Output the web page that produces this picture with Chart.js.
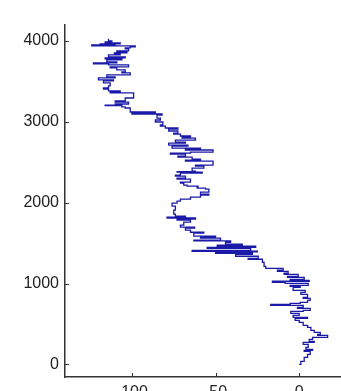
<!DOCTYPE html>
<html>
<head>
<meta charset="utf-8">
<script src="https://cdn.jsdelivr.net/npm/chart.js@4/dist/chart.umd.min.js"></script>
<style>
html,body{margin:0;padding:0;background:#fff;overflow:hidden;width:341px;height:391px;}
#wrap{width:341px;height:410px;}
</style>
</head>
<body>
<div id="wrap"><canvas id="c" width="341" height="410"></canvas></div>
<script>
// Profile values: horizontal value (x) along depth (y), bottom to top
const xValues = [0,1,3,5,6.6,3,8,4,5.4,2.4,9,6,8,17,11,12.6,9,7,5,2.4,0,-2.4,5,-3.6,0,-5,2.4,6.6,-1,2.4,
  -17,-5.4,0.6,5,6.6,2.4,5,1,3.6,-3.6,0.6,-5.4,5.4,-8.4,-16,6,-5.4,3,-7,-0.6,-9,-6.6,-13,-9.6,-20,-21,-22,
  -30.5,-24.5,-38,-28,-50,-25,-64,-29,-55,-26,-49,-34,-44,-41,-63,-47,-59,-50,-63,-57,-65,-68,-62.5,-71,
  -69,-65,-73,-62,-79,-68,-74,-75,-74,-76,-73,-71,-65,-59,-54,-59,-54,-56,-61,-60.5,-67,-69,-71,-65,-73,
  -68,-74,-71,-58,-73,-62,-64,-57,-62,-51.5,-68,-59,-64,-72.5,-68,-77,-65,-51.5,-68,-59,-76,-66.5,-78,-68,
  -74,-62,-70,-65,-71,-75,-72.5,-78,-72.5,-80,-83,-81.5,-86,-83,-85,-82,-100,-86,-101,-104,-106,-116,-110,
  -102,-110,-104,-99,-113,-107,-114,-117,-114,-113,-117,-111,-120,-110,-115,-101,-106,-104,-109,-113,-102,
  -114,-123,-109,-115,-106,-116,-104,-114,-107,-110.5,-103,-109,-102,-104,-101,-98,-124,-110,-119,-107,-116,-112,-114];
const depthValues = [0,37,87,124,161,173,186,210,248,272,285,310,334,359,371,396,421,458,483,520,545,569,582,607,631,656,669,693,706,730,
  743,755,768,792,817,829,866,891,916,953,966,978,1003,1015,1028,1040,1052,1077,1089,1114,1127,1150,1164,1188,1213,1263,1300,
  1312,1337,1362,1374,1392,1399,1411,1436,1448,1461,1473,1486,1510,1528,1535,1560,1572,1585,1622,1634,1659,1684,1696,1721,
  1758,1783,1795,1810,1820,1832,1857,1907,1956,1993,2018,2043,2067,2092,2105,2129,2166,2179,2191,2204,2216,2241,2253,2290,2303,
  2327,2340,2364,2377,2383,2389,2426,2451,2464,2513,2526,2538,2563,2575,2600,2612,2625,2650,2662,2674,2699,2711,2736,2748,
  2773,2798,2810,2823,2847,2860,2885,2909,2922,2946,2959,2996,3021,3045,3083,3095,3112,3120,3169,3182,3200,3206,3219,
  3243,3256,3293,3355,3367,3380,3404,3417,3442,3479,3504,3516,3541,3553,3578,3603,3615,3640,3665,3677,3702,
  3714,3727,3739,3764,3776,3789,3801,3826,3838,3850,3863,3875,3900,3912,3925,3937,3949,3955,3962,3974,3987,3999,4024];
const xTicks = [-100, -50, 0];
const yTicks = [0, 1000, 2000, 3000, 4000];

const points = xValues.map((v, i) => ({x: v, y: depthValues[i]}));

const inwardTicks = {
  id: 'inwardTicks',
  afterDraw(chart) {
    const ctx = chart.ctx, a = chart.chartArea;
    const xs = chart.scales.x, ys = chart.scales.y;
    ctx.save();
    ctx.strokeStyle = '#333';
    ctx.lineWidth = 1;
    ctx.beginPath();
    yTicks.forEach(t => {
      const p = Math.round(ys.getPixelForValue(t)) + 0.5;
      ctx.moveTo(a.left, p); ctx.lineTo(a.left + 4, p);
    });
    xTicks.forEach(t => {
      const p = Math.round(xs.getPixelForValue(t)) + 0.5;
      ctx.moveTo(p, a.bottom); ctx.lineTo(p, a.bottom - 4);
    });
    ctx.stroke();
    ctx.restore();
  }
};

const tickFont = {family: 'Liberation Sans, Arial', size: 16};

new Chart(document.getElementById('c'), {
  type: 'scatter',
  data: {
    datasets: [{
      data: points,
      showLine: true,
      stepped: 'before',
      borderColor: '#1a1aa8',
      borderWidth: 1.3,
      pointRadius: 0,
      fill: false
    }]
  },
  options: {
    responsive: false,
    devicePixelRatio: 1,
    animation: false,
    layout: {padding: {left: 0, right: 0, top: 25, bottom: 0}},
    plugins: {legend: {display: false}, tooltip: {enabled: false}},
    scales: {
      x: {
        type: 'linear',
        min: -140, max: 25,
        afterBuildTicks: s => { s.ticks = xTicks.map(v => ({value: v})); },
        afterFit: s => { s.height = 33; },
        grid: {display: false, drawTicks: false},
        border: {display: true, color: '#333', width: 1.5},
        ticks: {padding: 6, color: '#222', font: tickFont, callback: v => String(v)}
      },
      y: {
        type: 'linear',
        min: -155, max: 4195,
        afterBuildTicks: s => { s.ticks = yTicks.map(v => ({value: v})); },
        afterFit: s => { s.width = 65; },
        grid: {display: false, drawTicks: false},
        border: {display: true, color: '#333', width: 1.5},
        ticks: {padding: 6, color: '#222', font: tickFont, callback: v => String(v)}
      }
    }
  },
  plugins: [inwardTicks]
});
</script>
</body>
</html>
